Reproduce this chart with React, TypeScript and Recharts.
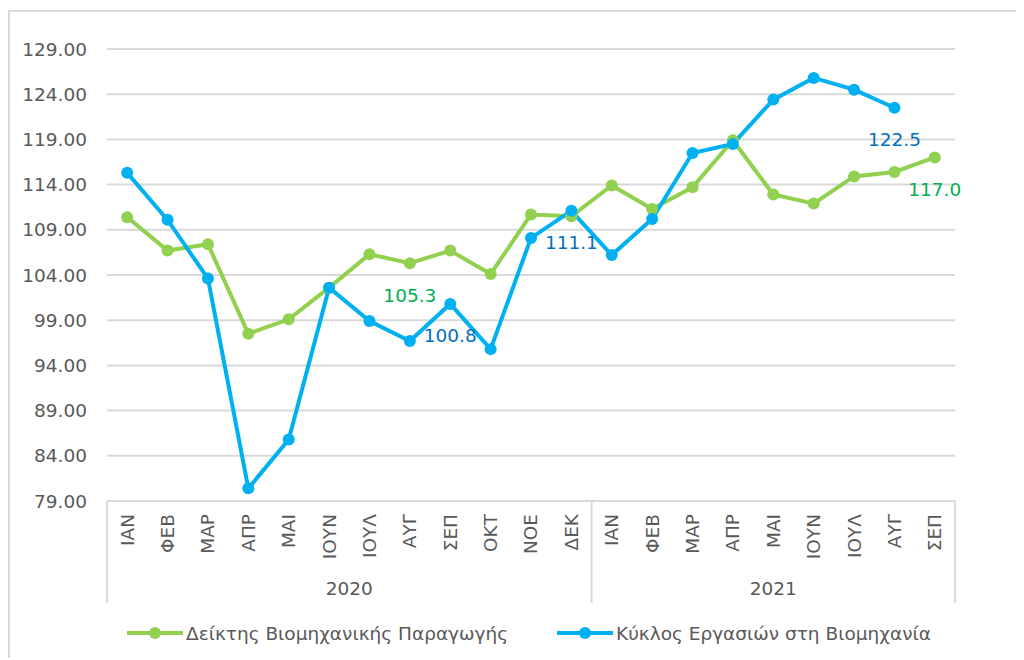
import React from 'react';
import { LineChart, Line, XAxis, YAxis, CartesianGrid, LabelList } from 'recharts';

const months2020 = ['ΙΑΝ', 'ΦΕΒ', 'ΜΑΡ', 'ΑΠΡ', 'ΜΑΙ', 'ΙΟΥΝ', 'ΙΟΥΛ', 'ΑΥΓ', 'ΣΕΠ', 'ΟΚΤ', 'ΝΟΕ', 'ΔΕΚ'];
const months2021 = ['ΙΑΝ', 'ΦΕΒ', 'ΜΑΡ', 'ΑΠΡ', 'ΜΑΙ', 'ΙΟΥΝ', 'ΙΟΥΛ', 'ΑΥΓ', 'ΣΕΠ'];
const years = ['2020', '2021'];

// Δείκτης Βιομηχανικής Παραγωγής
const productionIndex = [
  110.4, 106.7, 107.4, 97.5, 99.1, 102.6, 106.3, 105.3, 106.7, 104.1, 110.7, 110.5,
  113.9, 111.3, 113.7, 118.9, 112.9, 111.9, 114.9, 115.4, 117.0,
];
// Κύκλος Εργασιών στη Βιομηχανία
const turnoverIndex = [
  115.3, 110.1, 103.6, 80.4, 85.8, 102.6, 98.9, 96.7, 100.8, 95.8, 108.1, 111.1,
  106.2, 110.2, 117.5, 118.5, 123.4, 125.8, 124.5, 122.5, null,
];
// which points carry a value label
const productionLabelled = [7, 20];
const turnoverLabelled = [8, 11, 19];

const yTicks = [79, 84, 89, 94, 99, 104, 109, 114, 119, 124, 129];

const seriesNames = ['Δείκτης Βιομηχανικής Παραγωγής', 'Κύκλος Εργασιών στη Βιομηχανία'];

const data = [
  ...months2020.map((m) => ({ month: m, year: years[0] })),
  ...months2021.map((m) => ({ month: m, year: years[1] })),
].map((d, i) => ({ ...d, production: productionIndex[i], turnover: turnoverIndex[i] }));

const FONT = '"DejaVu Sans", sans-serif';
const FS = 18.5;
const TEXT = '#595959';
const GRID = '#d9d9d9';
const GREEN = '#92D050';
const BLUE = '#00B0F0';

const W = 1016;
const H = 650;
const M = { top: 41, right: 69, left: 19, bottom: 55 };
const Y_AXIS_W = 80;
const X_AXIS_H = 102;
const plotW = W - M.left - Y_AXIS_W - M.right;
const band = plotW / data.length;

const n2020 = months2020.length;

function MonthTick(props: any) {
  const { x, y, payload } = props;
  const i = payload.index;
  const parts: React.ReactNode[] = [];
  parts.push(
    <text
      key="m"
      x={x}
      y={y + 13}
      dy="0.35em"
      textAnchor="end"
      transform={`rotate(-90 ${x} ${y + 13})`}
      fill={TEXT}
      fontSize={FS}
      fontFamily={FONT}
    >
      {payload.value}
    </text>
  );
  if (i === 0) {
    parts.push(<line key="l0" x1={x - band / 2} x2={x - band / 2} y1={y} y2={y + X_AXIS_H} stroke={GRID} strokeWidth={2} />);
  }
  if (i === n2020 - 1 || i === data.length - 1) {
    parts.push(<line key="l1" x1={x + band / 2} x2={x + band / 2} y1={y} y2={y + X_AXIS_H} stroke={GRID} strokeWidth={2} />);
  }
  // year labels centred under their group of months
  const mid2020 = (n2020 - 1) / 2;
  const mid2021 = n2020 + (months2021.length - 1) / 2;
  const yearAt = (mid: number, label: string) => {
    const base = Math.floor(mid);
    if (i !== base) return;
    const cx = x + (mid - base) * band;
    parts.push(
      <text key="y" x={cx} y={y + 88} dy="0.35em" textAnchor="middle" fill={TEXT} fontSize={FS} fontFamily={FONT}>
        {label}
      </text>
    );
  };
  yearAt(mid2020, years[0]);
  yearAt(mid2021, years[1]);
  return <g>{parts}</g>;
}

const makeLabel = (indices: number[], color: string) => (props: any) => {
  const { x, y, value, index } = props;
  if (!indices.includes(index) || value == null) return null;
  return (
    <text x={x} y={y + 32} dy="0.35em" textAnchor="middle" fill={color} fontSize={FS} fontFamily={FONT}>
      {Number(value).toFixed(1)}
    </text>
  );
};

function LegendItem({ color, label, left }: { color: string; label: string; left: number }) {
  return (
    <div style={{ position: 'absolute', left, top: 614, display: 'flex', alignItems: 'center', height: 22 }}>
      <svg width={56} height={16} style={{ display: 'block' }}>
        <line x1={0} x2={56} y1={8} y2={8} stroke={color} strokeWidth={4} />
        <circle cx={28} cy={8} r={6} fill={color} />
      </svg>
      <span style={{ marginLeft: 3, fontFamily: FONT, fontSize: FS, color: TEXT, whiteSpace: 'nowrap' }}>{label}</span>
    </div>
  );
}

export default function App() {
  return (
    <div style={{ position: 'relative', width: W, height: H }}>
      <div
        style={{
          position: 'absolute',
          left: 0,
          top: 2,
          width: W,
          height: H - 2,
          boxSizing: 'border-box',
          borderTop: `2px solid ${GRID}`,
          borderLeft: `2px solid ${GRID}`,
        }}
      />
      <div style={{ position: 'absolute', left: 0, top: 0 }}>
        <LineChart width={W} height={H} data={data} margin={M}>
          <CartesianGrid vertical={false} stroke={GRID} strokeWidth={2} />
          <XAxis
            dataKey="month"
            interval={0}
            height={X_AXIS_H}
            padding={{ left: band / 2, right: band / 2 }}
            tickSize={0}
            tickMargin={0}
            tickLine={false}
            axisLine={{ stroke: GRID, strokeWidth: 2 }}
            tick={<MonthTick />}
          />
          <YAxis
            width={Y_AXIS_W}
            domain={[79, 129]}
            ticks={yTicks}
            interval={0}
            axisLine={false}
            tickLine={false}
            tickSize={0}
            tickMargin={20}
            tickFormatter={(v: number) => v.toFixed(2)}
            tick={{ fill: TEXT, fontSize: FS, fontFamily: FONT }}
          />
          <Line
            dataKey="production"
            name={seriesNames[0]}
            stroke={GREEN}
            strokeWidth={4}
            dot={{ r: 6, fill: GREEN, stroke: 'none' }}
            isAnimationActive={false}
          >
            <LabelList dataKey="production" content={makeLabel(productionLabelled, '#00B050')} />
          </Line>
          <Line
            dataKey="turnover"
            name={seriesNames[1]}
            stroke={BLUE}
            strokeWidth={4}
            dot={{ r: 6, fill: BLUE, stroke: 'none' }}
            isAnimationActive={false}
          >
            <LabelList dataKey="turnover" content={makeLabel(turnoverLabelled, '#0070C0')} />
          </Line>
        </LineChart>
      </div>
      <LegendItem color={GREEN} label={seriesNames[0]} left={119} />
      <LegendItem color={BLUE} label={seriesNames[1]} left={549} />
    </div>
  );
}
